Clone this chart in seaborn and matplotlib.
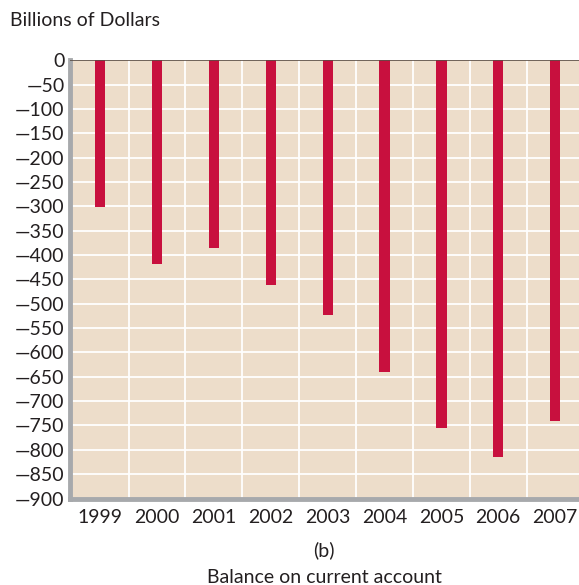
import numpy as np
import pandas as pd
import matplotlib
matplotlib.use("Agg")
import matplotlib.pyplot as plt
import seaborn as sns

# --- Data ---
YEARS = ["1999", "2000", "2001", "2002", "2003", "2004", "2005", "2006", "2007"]
BALANCE = [-302, -418, -385, -461, -523, -641, -756, -814, -740]
Y_TICKS = list(range(0, -901, -50))

BG = "#EDDDCA"
BAR = "#C8103E"
SPINE = "#A7A9AC"
TEXT = "#231F20"

sns.set_style("white")
plt.rcParams['font.family'] = ['Lato', 'DejaVu Sans']

df = pd.DataFrame({"year": YEARS, "balance": BALANCE})

fig = plt.figure(figsize=(5.79, 5.85), dpi=100)
ax = fig.add_axes([0.121, 0.147, 0.879, 0.750])
ax.set_facecolor(BG)

sns.barplot(data=df, x="year", y="balance", color=BAR, width=0.18,
            saturation=1, linewidth=0, ax=ax, zorder=3)

# white grid: horizontal every 50, vertical between the years
for y in Y_TICKS[1:]:
    ax.axhline(y, color="white", lw=1.3, zorder=1)
for i in range(len(YEARS)):
    ax.axvline(i + 0.5, color="white", lw=1.3, zorder=1)
ax.axhline(0, color="#5A4E46", lw=1.2, zorder=4)

ax.set_xlim(-0.53, 8.42)
ax.set_ylim(-901, 0)
ax.set_yticks(Y_TICKS)
# long dash like the original typeface's minus sign
ax.set_yticklabels([str(v).replace("-", "\u2014") for v in Y_TICKS])
ax.tick_params(axis="both", length=0, labelsize=14, colors=TEXT)
ax.tick_params(axis="y", pad=4)
ax.tick_params(axis="x", pad=7)
ax.set_xlabel("")
ax.set_ylabel("")

for s in ["top", "right"]:
    ax.spines[s].set_visible(False)
ax.spines["left"].set_color(SPINE)
ax.spines["left"].set_linewidth(3.5)
ax.spines["bottom"].set_color(SPINE)
ax.spines["bottom"].set_linewidth(3.5)

fig.text(0.017, 0.965, "Billions of Dollars", fontsize=14, color=TEXT,
         ha="left", va="center")
fig.text(0.56, 0.060, "(b)", fontsize=14, color=TEXT, ha="center", va="center")
fig.text(0.56, 0.012, "Balance on current account", fontsize=14, color=TEXT,
         ha="center", va="center")

fig.savefig("out.png", dpi=100)
